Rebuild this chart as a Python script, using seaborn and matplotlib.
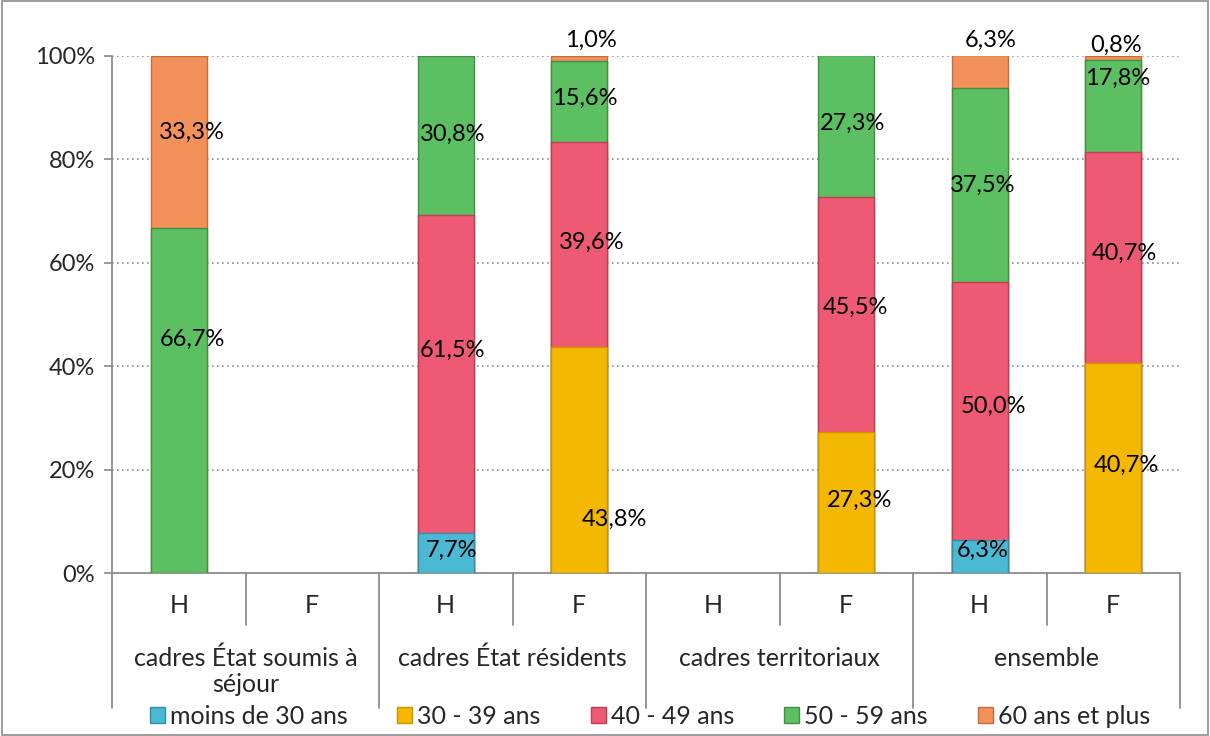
import pandas as pd
import seaborn as sns
from matplotlib import pyplot as plt
from matplotlib.patches import Patch, Rectangle
import matplotlib.transforms as mtransforms

#### DATA
groups = ["cadres État soumis à\nséjour", "cadres État résidents", "cadres territoriaux", "ensemble"]
sexes = ["H", "F"]
age_classes = ["moins de 30 ans", "30 - 39 ans", "40 - 49 ans", "50 - 59 ans", "60 ans et plus"]

# one value per bar: (soumis H, soumis F, résidents H, résidents F, territoriaux H, territoriaux F, ensemble H, ensemble F)
moins_30 = [0, 0, 7.7, 0, 0, 0, 6.3, 0]
de_30_39 = [0, 0, 0, 43.8, 0, 27.3, 0, 40.7]
de_40_49 = [0, 0, 61.5, 39.6, 0, 45.5, 50.0, 40.7]
de_50_59 = [66.7, 0, 30.8, 15.6, 0, 27.3, 37.5, 17.8]
plus_60 = [33.3, 0, 0, 1.0, 0, 0, 6.3, 0.8]

# where excel put each data label: (bar, series, y in %, x shift)
label_spots = [
    (0, 3, 45.1, 0.10), (0, 4, 85.3, 0.10),
    (2, 0, 4.3, 0.04), (2, 2, 43.1, 0.05), (2, 3, 84.9, 0.05),
    (3, 1, 10.3, 0.26), (3, 2, 64.0, 0.09), (3, 3, 91.9, 0.04), (3, 4, 103.1, 0.09),
    (5, 1, 14.1, 0.10), (5, 2, 51.3, 0.07), (5, 3, 87.0, 0.05),
    (6, 0, 4.4, 0.02), (6, 2, 32.3, 0.10), (6, 3, 75.0, 0.02), (6, 4, 103.1, 0.08),
    (7, 1, 20.9, 0.10), (7, 2, 61.9, 0.08), (7, 3, 95.7, 0.03), (7, 4, 102.1, 0.02),
]

colors = ["#4BB8D4", "#F5B800", "#EE5A73", "#5CBF62", "#F2915A"]
edges = ["#2F8FA8", "#C99400", "#C23C55", "#3E9143", "#C96C38"]

series = [moins_30, de_30_39, de_40_49, de_50_59, plus_60]
bar_ids = [str(i) for i in range(len(groups) * len(sexes))]

df = pd.DataFrame({a: s for a, s in zip(age_classes, series)})
df["bar"] = bar_ids
cum = df[age_classes].cumsum(axis=1)
cum["bar"] = bar_ids

########################################################
sns.set_theme(style="white")
plt.rcParams['font.family'] = ['Lato', 'DejaVu Sans']

fig = plt.figure(figsize=(12.1, 7.36), dpi=100)
ax = fig.add_axes([112/1210, 1-573/736, (1180-112)/1210, (573-56)/736])

# stacked bars: draw the cumulative tops from the highest class down
for i in range(len(age_classes)-1, -1, -1):
    a = age_classes[i]
    layer = cum[df[a] > 0][["bar", a]]
    sns.barplot(data=layer, x="bar", y=a, order=bar_ids, color=colors[i],
                saturation=1, width=0.42, edgecolor=edges[i], linewidth=1.0,
                ax=ax, zorder=3)

# data labels
for b, s, y, dx in label_spots:
    v = series[s][b]
    ax.text(b + dx, y, f"{v:.1f}%".replace(".", ","), ha="center", va="center",
            fontsize=17, color="black", zorder=5)

ax.set_ylim(0, 100)
ax.set_xlim(-0.5, len(bar_ids)-0.5)
ax.set_yticks(range(0, 101, 20))
ax.set_yticklabels([f"{t}%" for t in range(0, 101, 20)], fontsize=17)
ax.tick_params(axis="y", left=True, length=6, color="#8C8C8C", pad=6)
ax.set_xticks([])
ax.set_xlabel("")
ax.set_ylabel("")
for t in range(20, 101, 20):
    ax.axhline(t, color="#8C8C8C", linestyle=(0, (1, 2)), linewidth=1.2, zorder=1)
for side in ["top", "right"]:
    ax.spines[side].set_visible(False)
for side in ["left", "bottom"]:
    ax.spines[side].set_color("#8C8C8C")
    ax.spines[side].set_linewidth(1.3)

# two level category axis
trans = mtransforms.blended_transform_factory(ax.transData, ax.transAxes)
for g in range(len(groups)):
    ax.plot([2*g - 0.5, 2*g - 0.5], [0, -0.262], transform=trans, clip_on=False,
            color="#8C8C8C", lw=1.3)
    ax.plot([2*g + 0.5, 2*g + 0.5], [0, -0.101], transform=trans, clip_on=False,
            color="#8C8C8C", lw=1.3)
    for k, sx in enumerate(sexes):
        ax.text(2*g + k, -0.062, sx, transform=trans, ha="center", va="center", fontsize=18)
    ax.text(2*g + 0.5, -0.143, groups[g], transform=trans, ha="center", va="top",
            fontsize=18, linespacing=1.15)
ax.plot([len(bar_ids) - 0.5]*2, [0, -0.262], transform=trans, clip_on=False,
        color="#8C8C8C", lw=1.3)

handles = [Patch(facecolor=c, edgecolor=e, label=a) for c, e, a in zip(colors, edges, age_classes)]
fig.legend(handles=handles, loc="center", bbox_to_anchor=(0.537, 0.027), ncol=5,
           frameon=False, fontsize=18, handlelength=0.6, handleheight=0.6,
           handletextpad=0.2, columnspacing=2.0, borderaxespad=0)

fig.patches.append(Rectangle((0.002, 0.002), 0.996, 0.996, transform=fig.transFigure,
                             fill=False, edgecolor="#8C8C8C", linewidth=1.2))

plt.savefig("out.png", dpi=100)
